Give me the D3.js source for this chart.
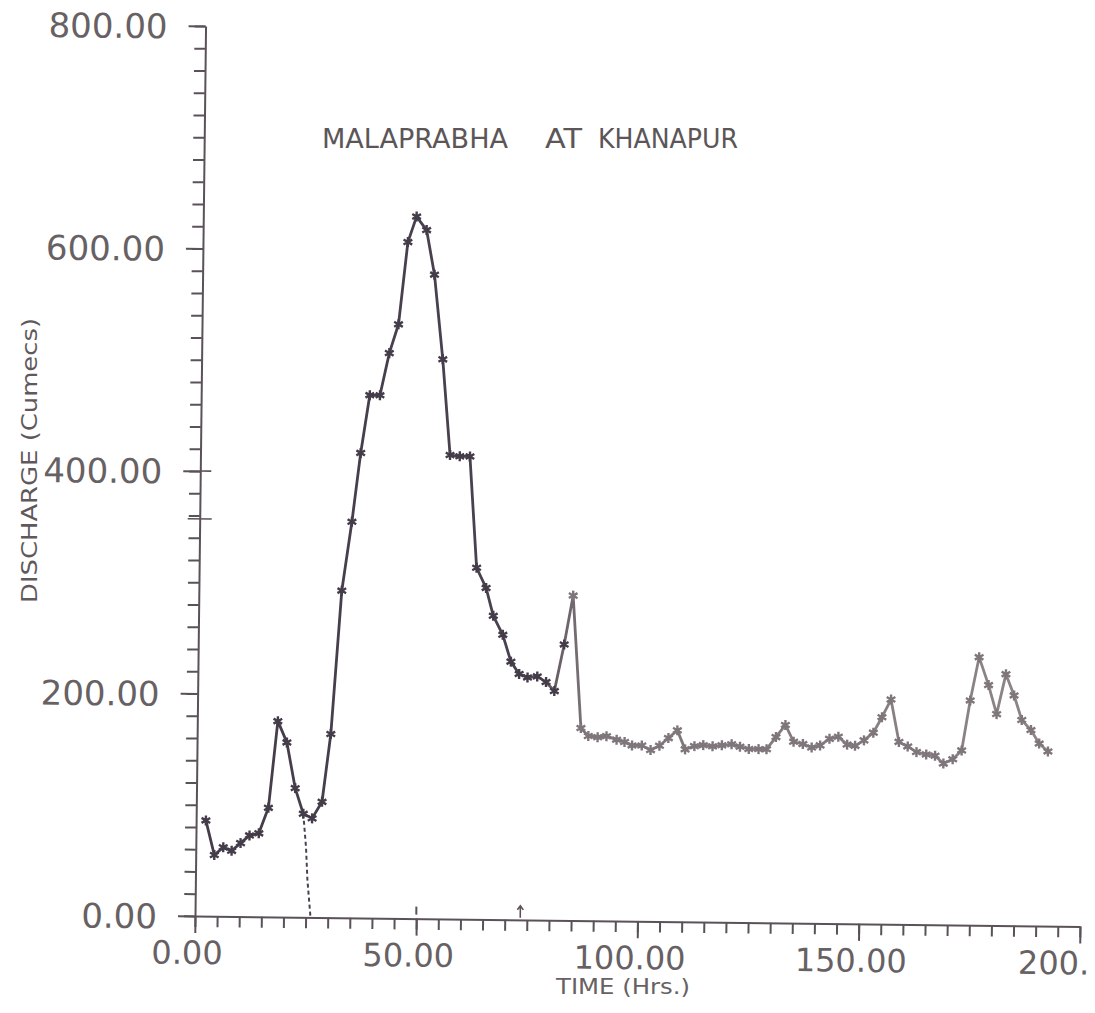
<!doctype html>
<html>
<head>
<meta charset="utf-8">
<title>Malaprabha at Khanapur</title>
<script src="https://d3js.org/d3.v7.min.js"></script>
</head>
<body style="margin:0;background:#fff;">
<svg width="1095" height="1013"></svg>
<script>
// hydrograph readings (time in hrs, discharge in cumecs)
const hours = [2.2, 4.2, 6.2, 8.1, 10.1, 12.1, 14.2, 16.3, 18.2, 20.3, 22.3, 24.2, 26.2, 28.4, 30.2, 32.3,
  34.4, 36.2, 38.1, 40.4, 42.4, 44.4, 46.3, 48.2, 50.5, 52.4, 54.5, 56.4, 58.6, 60.9, 62.7, 64.9,
  66.6, 68.8, 70.7, 72.6, 74.5, 76.7, 78.7, 80.6, 82.7, 84.6, 86.7, 88.4, 90.5, 92.5, 94.8, 96.6,
  98.3, 100.5, 102.5, 104.5, 106.5, 108.5, 110.3, 112.4, 114.4, 116.5, 118.6, 120.8, 122.7, 124.7,
  126.9, 128.7, 130.8, 132.9, 134.8, 136.9, 138.9, 140.8, 142.9, 144.9, 146.9, 148.7, 150.7, 152.8,
  154.7, 156.7, 158.6, 160.6, 162.6, 164.8, 166.8, 168.7, 170.8, 172.8, 174.6, 176.5, 178.7, 180.6,
  182.6, 184.5, 186.3, 188.4, 190.3, 192.3];
const discharge = [86, 55, 62, 59, 66, 73, 75, 98, 176, 157, 116, 93, 89, 104, 165, 294,
  356, 418, 470, 470, 508, 534, 608, 631, 619, 579, 503, 417, 416, 416, 316, 298,
  273, 256, 232, 221, 218, 219, 214, 206, 248, 292, 173, 166, 165, 166, 163, 161,
  158, 158, 154, 158, 165, 172, 155, 158, 159, 158, 159, 160, 158, 156,
  156, 156, 167, 178, 163, 161, 158, 160, 166, 168, 161, 160, 165, 172,
  186, 202, 164, 160, 155, 153, 152, 145, 149, 157, 202, 241, 216, 190,
  226, 207, 185, 176, 164, 157];

// dotted separation line drawn by hand
const sepHours = [24.2, 24.9, 25.3, 26.1];
const sepFlow = [93, 63, 34, 0];

const xMajor = [0, 50, 100, 150, 200];
const xLabels = ["0.00", "50.00", "100.00", "150.00", "200."];
const yMajor = [0, 200, 400, 600, 800];
const yLabels = ["0.00", "200.00", "400.00", "600.00", "800.00"];
const titleWords = ["MALAPRABHA", "AT", "KHANAPUR"];

const svg = d3.select("svg");
const ink = "#5a5258";
const font = "DejaVu Sans, Verdana, sans-serif";

// the scanned sheet is a little tilted
const g = svg.append("g").attr("transform", "translate(195,916) rotate(0.68)");

const x = d3.scaleLinear().domain([0, 200]).range([0, 885]);
const y = d3.scaleLinear().domain([0, 800]).range([0, -890]);

// minor ticks
g.append("g")
  .call(d3.axisBottom(x).tickValues(d3.range(0, 201, 5)).tickSize(11).tickFormat(""))
  .call(a => a.select(".domain").remove());
g.append("g")
  .call(d3.axisLeft(y).tickValues(d3.range(0, 801, 20)).tickSize(11).tickFormat(""))
  .call(a => a.select(".domain").remove());

// major ticks and labels
const xa = g.append("g")
  .call(d3.axisBottom(x).tickValues(xMajor).tickSize(17).tickSizeOuter(0)
    .tickFormat((d, i) => xLabels[i]));
const ya = g.append("g")
  .call(d3.axisLeft(y).tickValues(yMajor).tickSize(17).tickSizeOuter(0)
    .tickFormat((d, i) => yLabels[i]));

g.selectAll(".tick line, .domain").attr("stroke", ink).attr("stroke-width", 2);
xa.selectAll(".tick text")
  .attr("font-family", font).attr("font-size", 32).attr("fill", "#676163")
  .attr("dy", 0).attr("y", 48).attr("x", -8);
xa.selectAll(".tick").filter(d => d === 200).select("text")
  .attr("text-anchor", "start").attr("x", -62);
ya.selectAll(".tick text")
  .attr("font-family", font).attr("font-size", 34).attr("fill", "#676163")
  .attr("x", -38).attr("dy", "0.36em");

// small pen marks on the sheet
g.append("line").attr("x1", x(50)).attr("x2", x(50)).attr("y1", -4).attr("y2", -12)
  .attr("stroke", ink).attr("stroke-width", 2);
g.append("path")
  .attr("d", "M" + x(73.5) + ",-2V-14M" + (x(73.5) - 3) + ",-10L" + x(73.5) + ",-14L" + (x(73.5) + 3) + ",-10")
  .attr("fill", "none").attr("stroke", ink).attr("stroke-width", 1.6);
g.append("line").attr("x1", 0).attr("x2", 11).attr("y1", y(400)).attr("y2", y(400))
  .attr("stroke", ink).attr("stroke-width", 1.6);
g.append("line").attr("x1", -12).attr("x2", 12).attr("y1", y(357)).attr("y2", y(357))
  .attr("stroke", ink).attr("stroke-width", 1.6);

// colour of the pen fades towards the right
const grad = svg.append("defs").append("linearGradient")
  .attr("id", "pen").attr("gradientUnits", "userSpaceOnUse")
  .attr("x1", 0).attr("x2", 885).attr("y1", 0).attr("y2", 0);
grad.append("stop").attr("offset", 0).attr("stop-color", "#453c4a");
grad.append("stop").attr("offset", 0.36).attr("stop-color", "#4a4250");
grad.append("stop").attr("offset", 0.44).attr("stop-color", "#7d7479");
grad.append("stop").attr("offset", 1).attr("stop-color", "#8e8688");

const pts = hours.map((h, i) => [h, discharge[i]]);
const line = d3.line().x(d => x(d[0])).y(d => y(d[1]));

g.append("path")
  .attr("d", line(pts))
  .attr("fill", "none")
  .attr("stroke", "url(#pen)")
  .attr("stroke-width", 2.8)
  .attr("stroke-linejoin", "round");

g.append("path")
  .attr("d", line(sepHours.map((h, i) => [h, sepFlow[i]])))
  .attr("fill", "none")
  .attr("stroke", "#4a4250")
  .attr("stroke-width", 2)
  .attr("stroke-dasharray", "4,3");

const star = d3.symbol().type(d3.symbolAsterisk).size(70);
g.append("g").selectAll("path")
  .data(pts)
  .enter()
  .append("path")
  .attr("d", star)
  .attr("transform", d => "translate(" + x(d[0]) + "," + y(d[1]) + ")")
  .attr("fill", "none")
  .attr("stroke", d => x(d[0]) < 370 ? "#453c4a" : "#7f767b")
  .attr("stroke-width", 2.4);

// titles
const titleX = [322, 545, 598];
const titleW = [186, 37, 140];
svg.append("g").selectAll("text")
  .data(titleWords)
  .enter()
  .append("text")
  .attr("x", (d, i) => titleX[i]).attr("y", 148)
  .attr("font-family", font).attr("font-size", 26)
  .attr("fill", "#5c5658")
  .attr("textLength", (d, i) => titleW[i]).attr("lengthAdjust", "spacingAndGlyphs")
  .text(d => d);

svg.append("text")
  .attr("x", 556).attr("y", 994)
  .attr("font-family", font).attr("font-size", 21)
  .attr("fill", "#676163")
  .attr("textLength", 134).attr("lengthAdjust", "spacingAndGlyphs")
  .text("TIME (Hrs.)");

svg.append("text")
  .attr("transform", "translate(37,603) rotate(-90)")
  .attr("font-family", font).attr("font-size", 22)
  .attr("fill", "#5f595b")
  .attr("textLength", 285).attr("lengthAdjust", "spacingAndGlyphs")
  .text("DISCHARGE (Cumecs)");
</script>
</body>
</html>
